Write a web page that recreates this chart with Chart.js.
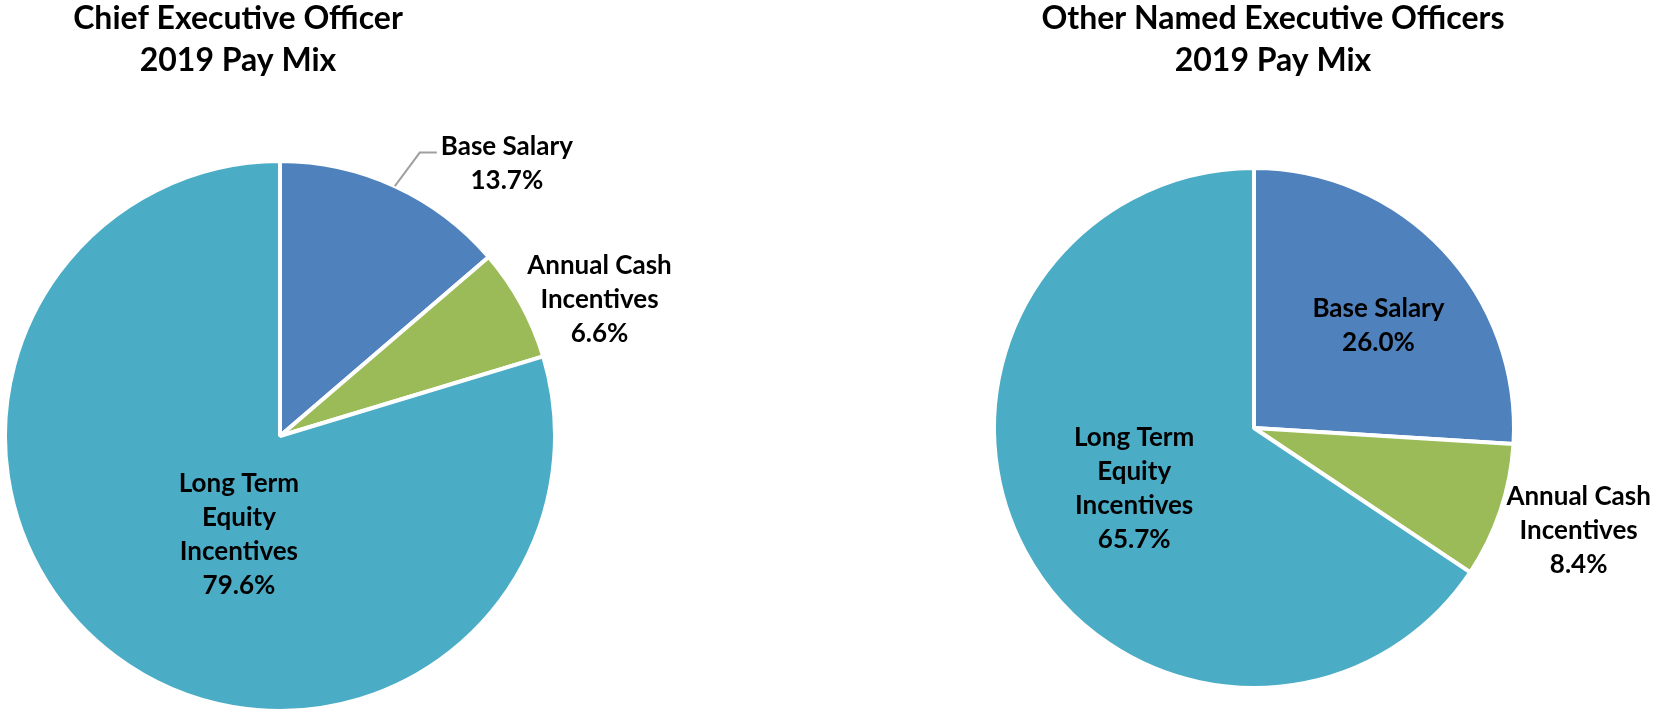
<!DOCTYPE html>
<html>
<head>
<meta charset="utf-8">
<script src="https://cdn.jsdelivr.net/npm/chart.js@4.4.1/dist/chart.umd.min.js"></script>
<style>
  html, body { margin: 0; padding: 0; background: #fff; }
  .wrap { position: absolute; top: 0; width: 830px; height: 716px; }
  #left { left: 0; }
  #right { left: 830px; }
</style>
</head>
<body>
<div class="wrap" id="left"><canvas id="ceoChart"></canvas></div>
<div class="wrap" id="right"><canvas id="neoChart"></canvas></div>
<script>
const categories = ['Base Salary', 'Annual Cash Incentives', 'Long Term Equity Incentives'];
const ceoValues = [13.7, 6.6, 79.6];
const neoValues = [26.0, 8.4, 65.7];
const colors = ['#4F81BD', '#9BBB59', '#4BACC6'];
// how each category name is wrapped in the slice labels
const labelLines = [['Base Salary'], ['Annual Cash', 'Incentives'], ['Long Term', 'Equity', 'Incentives']];

const FONT = 'Lato, "Open Sans", sans-serif';

// draws titles + data labels (Chart.js has no built-in data labels)
const pieText = {
  id: 'pieText',
  afterDraw(chart, args, opts) {
    const ctx = chart.ctx;
    const arcs = chart.getDatasetMeta(0).data;
    const values = chart.data.datasets[0].data;
    ctx.save();
    ctx.fillStyle = '#000';
    ctx.textAlign = 'center';
    ctx.textBaseline = 'middle';

    ctx.font = 'bold 32px ' + FONT;
    opts.title.forEach((t, i) => ctx.fillText(t, opts.titleX, opts.titleY + i * 42));

    ctx.font = 'bold 26px ' + FONT;
    const lineH = 34;
    arcs.forEach((arc, i) => {
      const p = opts.place[i];
      const mid = (arc.startAngle + arc.endAngle) / 2;
      const a = mid + p.da * Math.PI / 180;
      const cx = arc.x + Math.cos(a) * arc.outerRadius * p.r;
      const cy = arc.y + Math.sin(a) * arc.outerRadius * p.r;
      const lines = labelLines[i].concat(values[i].toFixed(1) + '%');
      const top = cy - (lines.length - 1) * lineH / 2;
      lines.forEach((l, j) => ctx.fillText(l, cx, top + j * lineH));

      if (p.leader) {
        const sx = arc.x + Math.cos(mid) * arc.outerRadius;
        const sy = arc.y + Math.sin(mid) * arc.outerRadius;
        const ex = cx - ctx.measureText(lines[0]).width / 2 - 4;
        const ey = top + 6;
        ctx.strokeStyle = '#A0A0A0';
        ctx.lineWidth = 2;
        ctx.beginPath();
        ctx.moveTo(sx, sy);
        ctx.lineTo(ex - 17, ey);
        ctx.lineTo(ex, ey);
        ctx.stroke();
      }
    });
    ctx.restore();
  }
};

function makePie(id, values, padding, text) {
  return new Chart(document.getElementById(id), {
    type: 'pie',
    data: {
      labels: categories,
      datasets: [{
        data: values,
        backgroundColor: colors,
        borderColor: '#fff',
        borderWidth: 4
      }]
    },
    options: {
      responsive: true,
      maintainAspectRatio: false,
      animation: false,
      layout: { padding: padding },
      plugins: {
        legend: { display: false },
        tooltip: { enabled: false },
        pieText: text
      }
    },
    plugins: [pieText]
  });
}

makePie('ceoChart', ceoValues,
  { left: 3, top: 159, right: 273, bottom: 3 },
  {
    title: ['Chief Executive Officer', '2019 Pay Mix'],
    titleX: 238, titleY: 19,
    place: [
      { da: 15.1, r: 1.289, leader: true },
      { da: 5.65, r: 1.263 },
      { da: -14.0, r: 0.389 }
    ]
  });

makePie('neoChart', neoValues,
  { left: 162, top: 166, right: 144, bottom: 26 },
  {
    title: ['Other Named Executive Officers', '2019 Pay Mix'],
    titleX: 443, titleY: 19,
    place: [
      { da: 3.9, r: 0.619 },
      { da: -1.0, r: 1.310 },
      { da: 1.2, r: 0.517 }
    ]
  });
</script>
</body>
</html>
